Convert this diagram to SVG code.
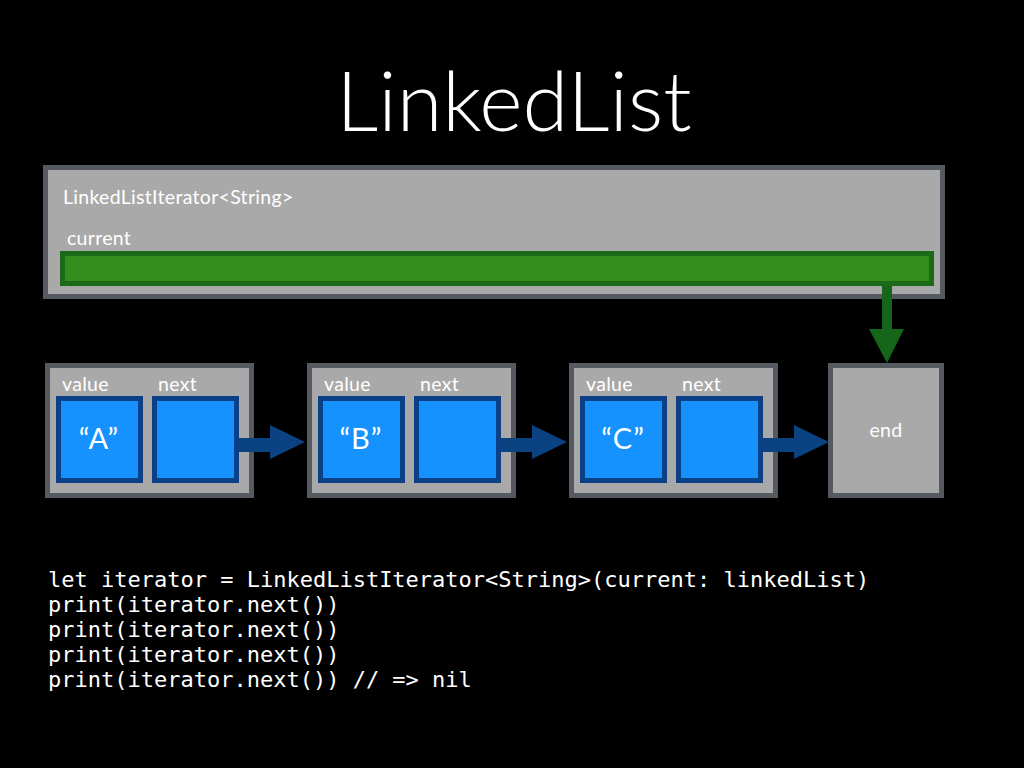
<svg xmlns="http://www.w3.org/2000/svg" width="1024" height="768" viewBox="0 0 1024 768">
<defs>
<style>
.bg{fill:#000}
.panel{fill:#a9a9a9;stroke:#555a60;stroke-width:5}
.cell{fill:#1592fd;stroke:#0b3f86;stroke-width:5}
.lbl{font-family:Lato,"Noto Sans",sans-serif;font-size:19.5px;letter-spacing:0.3px;fill:#ffffff}
.val{font-family:Lato,"Noto Sans",sans-serif;font-size:29px;letter-spacing:1px;fill:#ffffff;text-anchor:middle}
.code{font-family:"DejaVu Sans Mono",monospace;font-size:22px;fill:#ffffff}
.barr{fill:#0a4282}
.garr{fill:#15661a}
</style>
</defs>
<rect class="bg" x="0" y="0" width="1024" height="768"/>
<text x="514" y="131" style="font-family:Lato,'Noto Sans',sans-serif;font-size:83px;font-weight:300;fill:#fff;text-anchor:middle">LinkedList</text>

<g id="iterator">
<rect class="panel" x="45.5" y="167.5" width="897" height="129"/>
<text class="lbl" x="63" y="204">LinkedListIterator&lt;String&gt;</text>
<text class="lbl" x="67" y="245">current</text>
<rect x="62.5" y="253.5" width="869" height="30" style="fill:#338c1b;stroke:#1a6a1a;stroke-width:5"/>
</g>

<g id="nodeA">
<rect class="panel" x="47.5" y="365.5" width="204" height="130"/>
<text class="lbl" x="62" y="391">value</text>
<text class="lbl" x="158" y="391">next</text>
<rect class="cell" x="58.5" y="398.5" width="82" height="82"/>
<rect class="cell" x="154.5" y="398.5" width="82" height="82"/>
<text class="val" x="99" y="449">“A”</text>
</g>

<g id="nodeB">
<rect class="panel" x="309.5" y="365.5" width="204" height="130"/>
<text class="lbl" x="324" y="391">value</text>
<text class="lbl" x="420" y="391">next</text>
<rect class="cell" x="320.5" y="398.5" width="82" height="82"/>
<rect class="cell" x="416.5" y="398.5" width="82" height="82"/>
<text class="val" x="361" y="449">“B”</text>
</g>

<g id="nodeC">
<rect class="panel" x="571.5" y="365.5" width="204" height="130"/>
<text class="lbl" x="586" y="391">value</text>
<text class="lbl" x="682" y="391">next</text>
<rect class="cell" x="582.5" y="398.5" width="82" height="82"/>
<rect class="cell" x="678.5" y="398.5" width="82" height="82"/>
<text class="val" x="623" y="449">“C”</text>
</g>

<g id="end">
<rect class="panel" x="830.5" y="365.5" width="111" height="130"/>
<text class="lbl" x="886" y="437" style="text-anchor:middle">end</text>
</g>

<g id="connectors">
<polygon class="barr" points="239,438 270,438 270,425 305,442 270,459 270,452 239,452"/>
<polygon class="barr" points="501,438 532,438 532,425 567,442 532,459 532,452 501,452"/>
<polygon class="barr" points="763,438 794,438 794,425 829,442 794,459 794,452 763,452"/>
<polygon class="garr" points="882,286 892,286 892,329 904,329 887,363 869,329 882,329"/>
</g>

<g id="code">
<text class="code" x="48" y="587">let iterator = LinkedListIterator&lt;String&gt;(current: linkedList)</text>
<text class="code" x="48" y="612">print(iterator.next())</text>
<text class="code" x="48" y="637">print(iterator.next())</text>
<text class="code" x="48" y="662">print(iterator.next())</text>
<text class="code" x="48" y="687">print(iterator.next()) // =&gt; nil</text>
</g>
</svg>
